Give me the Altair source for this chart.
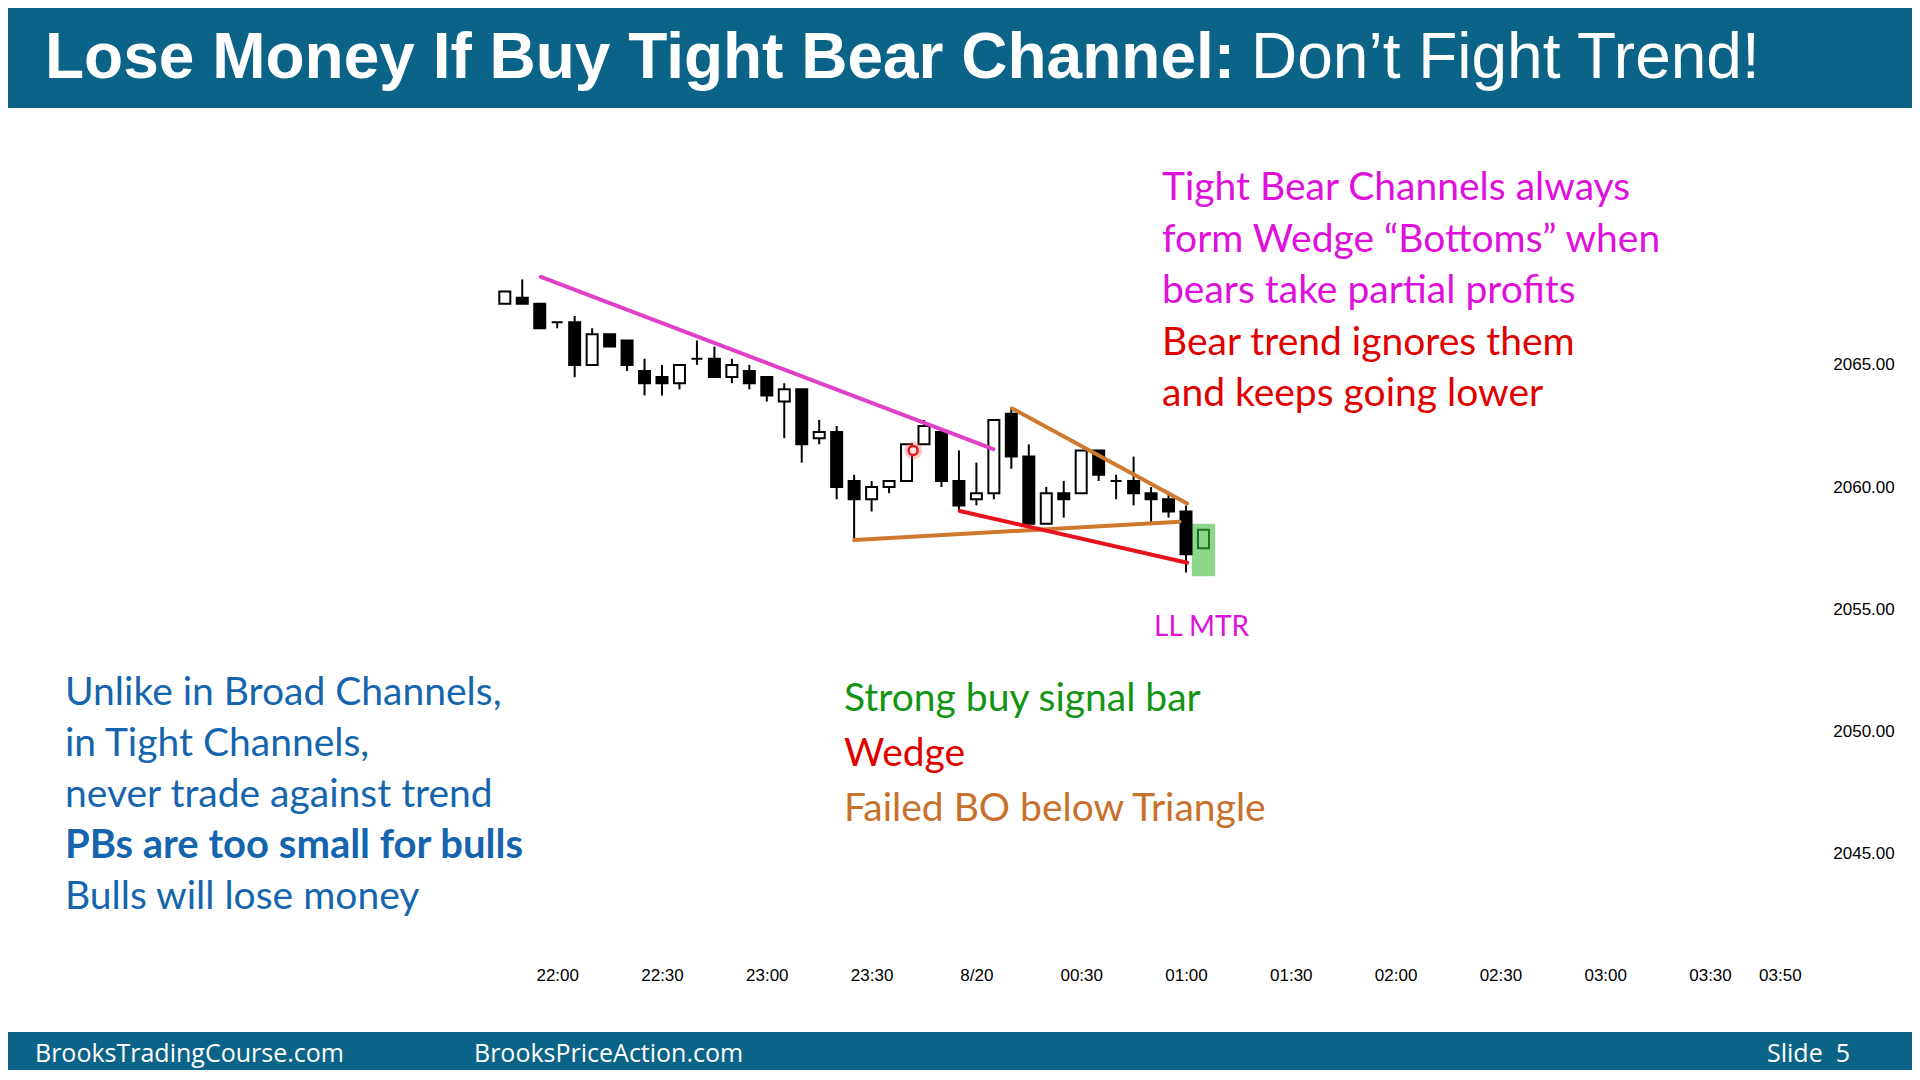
import altair as alt
import pandas as pd

# ---------------- data ----------------
TIMES = ["21:45", "21:50", "21:55", "22:00", "22:05", "22:10", "22:15", "22:20", "22:25", "22:30",
         "22:35", "22:40", "22:45", "22:50", "22:55", "23:00", "23:05", "23:10", "23:15", "23:20",
         "23:25", "23:30", "23:35", "23:40", "23:45", "23:50", "23:55", "00:00", "00:05", "00:10",
         "00:15", "00:20", "00:25", "00:30", "00:35", "00:40", "00:45", "00:50", "00:55", "01:00",
         "01:05"]
OPEN = [2067.5, 2067.75, 2067.5, 2066.75, 2066.75, 2065.0, 2066.25, 2066.0, 2064.75, 2064.5,
        2064.25, 2065.25, 2065.25, 2064.5, 2064.75, 2064.5, 2063.5, 2064.0, 2062.0, 2062.25,
        2060.25, 2059.5, 2060.0, 2060.25, 2061.75, 2062.25, 2060.25, 2059.5, 2059.75, 2063.0,
        2061.25, 2058.5, 2059.75, 2059.75, 2061.5, 2060.25, 2060.25, 2059.75, 2059.5, 2059.0,
        2057.5]
HIGH = [2068.0, 2068.5, 2067.5, 2066.75, 2067.0, 2066.5, 2066.25, 2066.0, 2065.25, 2065.0,
        2065.0, 2066.0, 2065.75, 2065.25, 2065.0, 2064.5, 2064.25, 2064.0, 2062.75, 2062.5,
        2060.5, 2060.25, 2060.25, 2061.75, 2062.75, 2062.25, 2061.5, 2061.0, 2062.75, 2063.25,
        2061.75, 2060.0, 2060.25, 2061.5, 2061.5, 2060.5, 2061.25, 2060.0, 2059.75, 2059.25,
        2058.25]
LOW = [2067.5, 2067.5, 2066.5, 2066.5, 2064.5, 2065.0, 2065.75, 2064.75, 2063.75, 2063.75,
       2064.0, 2065.0, 2064.5, 2064.25, 2064.0, 2063.5, 2062.0, 2061.0, 2061.75, 2059.5,
       2057.75, 2059.0, 2059.75, 2060.25, 2061.75, 2060.0, 2059.0, 2059.25, 2059.5, 2060.75,
       2058.5, 2058.5, 2058.75, 2059.75, 2060.25, 2059.5, 2059.25, 2058.5, 2058.75, 2056.5,
       2056.5]
CLOSE = [2068.0, 2067.5, 2066.5, 2066.75, 2065.0, 2066.25, 2065.75, 2065.0, 2064.25, 2064.25,
         2065.0, 2065.25, 2064.5, 2065.0, 2064.25, 2063.75, 2064.0, 2061.75, 2062.25, 2060.0,
         2059.5, 2060.0, 2060.25, 2061.75, 2062.5, 2060.25, 2059.25, 2059.75, 2062.75, 2061.25,
         2058.5, 2059.75, 2059.5, 2061.5, 2060.5, 2060.25, 2059.75, 2059.5, 2059.0, 2057.25,
         2058.25]

X_TICKS = ["22:00", "22:30", "23:00", "23:30", "00:00", "00:30", "01:00", "01:30", "02:00",
           "02:30", "03:00", "03:30", "03:50"]
Y_TICKS = [2045, 2050, 2055, 2060, 2065]

# trend lines: start time, start price, end time, end price, colour
LINE_T1 = ["21:55:20", "00:10:15", "23:25:00", "23:55:15"]
LINE_P1 = [2068.6, 2063.22, 2057.83, 2059.02]
LINE_T2 = ["00:04:50", "01:00:20", "00:58:10", "01:00:20"]
LINE_P2 = [2061.55, 2059.33, 2058.58, 2056.9]
LINE_COLORS = ["#E040C6", "#D0782E", "#D0782E", "#E8121C"]

SIGNAL_BOX_T = ["01:01:40", "01:08:20"]
SIGNAL_BOX_P = [2056.35, 2058.5]
CURSOR_T = "23:41:54"
CURSOR_P = 2061.5

TITLE_BOLD = "Lose Money If Buy Tight Bear Channel:"
TITLE_REG = "Don\u2019t Fight Trend!"
RIGHT_MAGENTA = ["Tight Bear Channels always", "form Wedge \u201cBottoms\u201d when",
                 "bears take partial profits"]
RIGHT_RED = ["Bear trend ignores them", "and keeps going lower"]
LEFT_BLUE = ["Unlike in Broad Channels,", "in Tight Channels,", "never trade against trend",
             "PBs are too small for bulls", "Bulls will lose money"]
MID_TEXT = ["Strong buy signal bar", "Wedge", "Failed BO below Triangle"]
MTR_LABEL = "LL MTR"
FOOTER = ["BrooksTradingCourse.com", "BrooksPriceAction.com", "Slide \u00a05"]


def to_ms(hms):
    parts = [int(p) for p in hms.split(":")]
    h, m = parts[0], parts[1]
    s = parts[2] if len(parts) > 2 else 0
    day = 19 if h >= 12 else 20
    return int(pd.Timestamp(2015, 8, day, h, m, s, tz="UTC").value // 10**6)


# ---------------- layout (page pixels) ----------------
OX, OY = 452.4, 242.75          # page position of plot origin
PW, PH = 1362.4, 708.5
CH = 1062                       # total chart height
PAD = {"left": OX - 8, "top": OY - 8, "right": 1904 - (OX - 8) - PW,
       "bottom": CH - (OY - 8) - PH}


def px(x):
    return x - OX


def py(y):
    return y - OY


TEAL = "#0B6488"
ONE = alt.Data(values=[{"k": 0}])

# ---------------- candles ----------------
n = len(TIMES)
fills, strokes = [], []
for i in range(n):
    if i == n - 1:
        fills.append("#8BD68B")
        strokes.append("#1C731C")
    elif CLOSE[i] > OPEN[i]:
        fills.append("#FFFFFF")
        strokes.append("#000000")
    else:
        fills.append("#000000")
        strokes.append("#000000")

candles = pd.DataFrame({
    "t": [to_ms(t) for t in TIMES], "open": OPEN, "high": HIGH, "low": LOW, "close": CLOSE,
    "fill": fills, "stroke": strokes,
})

x_enc = alt.X(
    "t:T",
    scale=alt.Scale(type="utc", domain=[to_ms("21:30"), to_ms("04:00")], padding=0),
    axis=alt.Axis(
        values=[to_ms(t) for t in X_TICKS],
        labelExpr="utchours(datum.value) == 0 && utcminutes(datum.value) == 0 ? '8/20' : utcFormat(datum.value, '%H:%M')",
        title=None, grid=False, domain=False, ticks=False, labelPadding=24,
        labelBaseline="middle", labelFontSize=17, labelFont="Liberation Sans",
        labelColor="#000000", labelFlush=False, labelOverlap=False,
    ),
)
y_scale = alt.Scale(domain=[2041, 2070], nice=False, zero=False, padding=0)
y_enc = alt.Y(
    "low:Q", scale=y_scale,
    axis=alt.Axis(
        orient="right", values=Y_TICKS, format=".2f", title=None, grid=False, domain=False,
        ticks=False, labelPadding=18, labelFontSize=17, labelFont="Liberation Sans",
        labelColor="#000000", labelFlush=False, labelOverlap=False,
    ),
)

wicks = alt.Chart(candles).mark_rule(strokeWidth=2).encode(
    x=x_enc, y=y_enc, y2="high:Q", color=alt.Color("stroke:N", scale=None)
)
bodies = alt.Chart(candles).mark_bar(size=11, strokeWidth=2).encode(
    x=alt.X("t:T", title=None), y=alt.Y("open:Q", title=None), y2="close:Q",
    fill=alt.Fill("fill:N", scale=None), stroke=alt.Stroke("stroke:N", scale=None),
)

lines_df = pd.DataFrame({
    "t1": [to_ms(t) for t in LINE_T1], "p1": LINE_P1,
    "t2": [to_ms(t) for t in LINE_T2], "p2": LINE_P2, "c": LINE_COLORS,
})
lines = alt.Chart(lines_df).mark_rule(strokeWidth=4, strokeCap="round").encode(
    x=alt.X("t1:T", title=None), x2="t2:T", y=alt.Y("p1:Q", title=None), y2="p2:Q",
    color=alt.Color("c:N", scale=None),
)

box_df = pd.DataFrame({"t1": [to_ms(SIGNAL_BOX_T[0])], "t2": [to_ms(SIGNAL_BOX_T[1])],
                       "p1": [SIGNAL_BOX_P[0]], "p2": [SIGNAL_BOX_P[1]]})
box = alt.Chart(box_df).mark_rect(color="#8BD68B").encode(
    x=alt.X("t1:T", title=None), x2="t2:T", y=alt.Y("p1:Q", title=None), y2="p2:Q"
)

cur_df = pd.DataFrame({"t": [to_ms(CURSOR_T)], "p": [CURSOR_P]})
glow = alt.Chart(cur_df).mark_circle(size=330, color="#FF5A5A", opacity=0.3).encode(
    x=alt.X("t:T", title=None), y=alt.Y("p:Q", title=None)
)
ring = alt.Chart(cur_df).mark_circle(size=80, fill="#FFE2E2", stroke="#E31B1B",
                                     strokeWidth=2.5, opacity=1).encode(
    x=alt.X("t:T", title=None), y=alt.Y("p:Q", title=None)
)

# ---------------- decorations ----------------
def rect(x1, x2, y1, y2, color):
    return alt.Chart(ONE).mark_rect(color=color).encode(
        x=alt.value(x1), x2=alt.value(x2), y=alt.value(y1), y2=alt.value(y2)
    )


def label(txt, x, y, color, size, font, weight="normal"):
    return alt.Chart(ONE).mark_text(
        align="left", baseline="alphabetic", font=font, fontSize=size,
        fontWeight=weight, color=color,
    ).encode(x=alt.value(px(x)), y=alt.value(py(y)), text=alt.value(txt))


title_bar = rect(px(8), px(1912), py(8), py(108), TEAL)
footer_bar = rect(px(8), px(1912), py(1032), py(8 + CH), TEAL)

texts = []
texts.append(label(TITLE_BOLD, 45, 78, "#FFFFFF", 64, "Liberation Sans", "bold"))
texts.append(label(TITLE_REG, 1251, 78, "#FFFFFF", 64, "Liberation Sans"))

ANN_FONT = "Lato"
ANN_SIZE = 39
for i, s in enumerate(RIGHT_MAGENTA):
    texts.append(label(s, 1162, 200 + 51.5 * i, "#E010DC", ANN_SIZE, ANN_FONT))
for i, s in enumerate(RIGHT_RED):
    texts.append(label(s, 1162, 354.5 + 51.5 * i, "#E00000", ANN_SIZE, ANN_FONT))
for i, s in enumerate(LEFT_BLUE):
    bold = i == 3
    texts.append(label(s, 65, 705 + 51 * i, "#1565AE", 40 if bold else ANN_SIZE, ANN_FONT,
                       "bold" if bold else "normal"))
MID_COLORS = ["#139413", "#E00000", "#C8712C"]
for i, s in enumerate(MID_TEXT):
    texts.append(label(s, 844, 711 + 55 * i, MID_COLORS[i], ANN_SIZE, ANN_FONT))
texts.append(label(MTR_LABEL, 1154, 636, "#E010DC", 28, ANN_FONT))

FOOT_X = [35, 474, 1767]
for s, x in zip(FOOTER, FOOT_X):
    texts.append(label(s, x, 1062, "#FFFFFF", 25, "Open Sans"))

chart = alt.layer(
    wicks, title_bar, footer_bar, box, bodies, lines, glow, ring, *texts
).properties(
    width=PW, height=PH,
    autosize=alt.AutoSizeParams(type="none"),
    padding=PAD,
    background="#FFFFFF",
).configure_view(strokeWidth=0)

chart.save("out.html", embed_options={"renderer": "svg", "actions": False})
